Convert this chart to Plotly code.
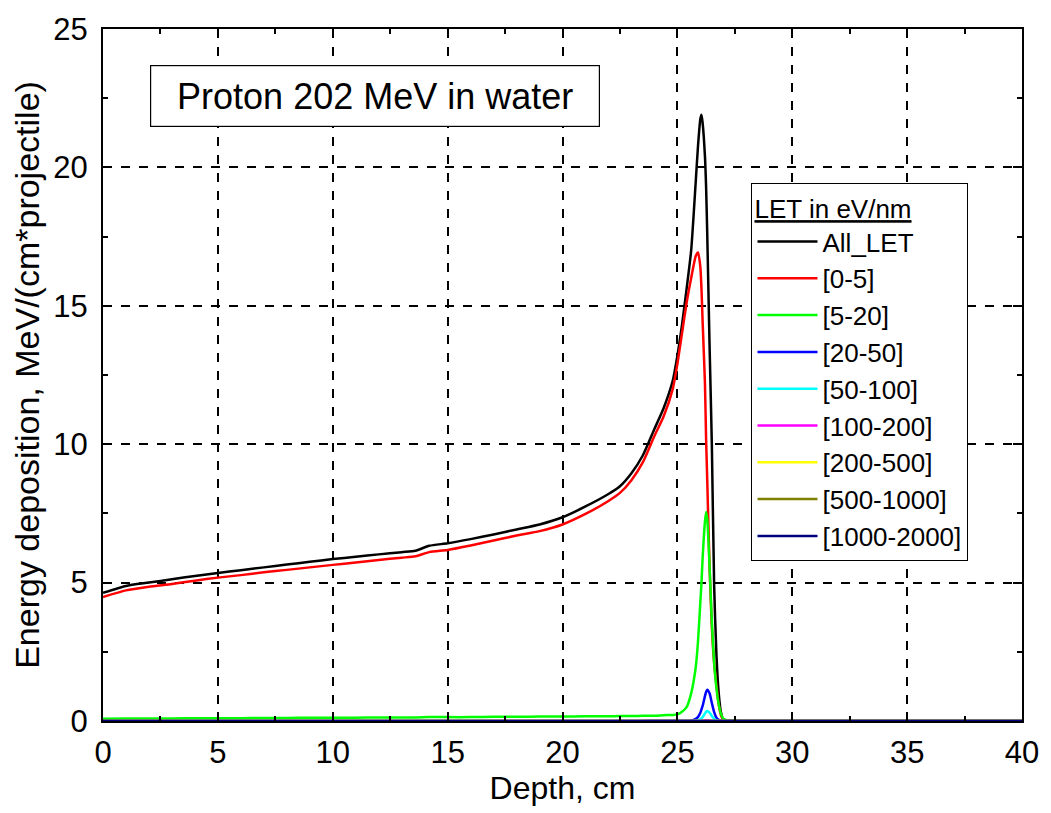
import plotly.graph_objects as go

depth = [0, 1, 2, 3, 4, 5, 6, 7, 8, 9, 10, 11, 12, 13, 13.6, 14.2, 15, 16, 17, 18, 19, 20,
         21, 22, 22.5, 23, 23.5, 24, 24.4, 24.8, 25.0, 25.2, 25.4, 25.6, 25.8, 25.9, 26.0,
         26.05, 26.1, 26.2, 26.25, 26.3, 26.4, 26.5, 26.6, 26.7, 26.8, 26.9, 27.0, 27.2,
         27.5, 28, 30, 35, 40]

all_let = [4.63, 4.88, 5.0, 5.12, 5.24, 5.35, 5.45, 5.55, 5.65, 5.75, 5.85, 5.93, 6.02, 6.1,
           6.15, 6.33, 6.42, 6.57, 6.74, 6.92, 7.10, 7.36, 7.75, 8.2, 8.48, 8.95, 9.6, 10.55,
           11.3, 12.3, 13.2, 14.3, 15.6, 17.0, 19.5, 20.8, 21.75, 21.9, 21.6, 20.4, 19.3,
           17.6, 13.6, 10.0, 4.9, 2.4, 1.0, 0.3, 0.06, 0.02, 0.01, 0.0, 0.0, 0.0, 0.0]

let_0_5 = [4.48, 4.72, 4.85, 4.95, 5.07, 5.18, 5.27, 5.37, 5.46, 5.55, 5.64, 5.73, 5.82, 5.9,
           5.95, 6.1, 6.18, 6.34, 6.52, 6.7, 6.86, 7.1, 7.48, 7.95, 8.24, 8.7, 9.35, 10.3,
           11.0, 12.0, 12.9, 14.0, 15.1, 16.0, 16.8, 16.93, 16.4, 15.6, 14.4, 12.2, 10.2,
           8.7, 5.6, 3.4, 2.1, 1.3, 0.6, 0.2, 0.05, 0.01, 0.0, 0.0, 0.0, 0.0, 0.0]

let_5_20 = [0.08, 0.09, 0.09, 0.09, 0.1, 0.1, 0.1, 0.11, 0.11, 0.12, 0.12, 0.12, 0.13, 0.13,
            0.13, 0.14, 0.14, 0.14, 0.15, 0.15, 0.16, 0.16, 0.17, 0.17, 0.18, 0.18, 0.19,
            0.19, 0.21, 0.22, 0.24, 0.33, 0.5, 1.0, 1.95, 2.9, 4.3, 5.0, 5.9, 7.2, 7.55,
            7.3, 5.6, 3.6, 2.1, 1.2, 0.6, 0.25, 0.08, 0.02, 0.01, 0.0, 0.0, 0.0, 0.0]

let_20_50 = [0.0] * 21 + [0.0, 0.0, 0.0, 0.0, 0.0, 0.0, 0.01, 0.01, 0.01, 0.01, 0.01, 0.01,
                          0.02, 0.08, 0.15, 0.3, 0.42, 0.55, 0.9, 1.05, 1.13, 1.0, 0.65, 0.32,
                          0.12, 0.04, 0.01, 0.0, 0.0, 0.0, 0.0, 0.0, 0.0, 0.0]

let_50_100 = [0.0] * 21 + [0.0, 0.0, 0.0, 0.0, 0.0, 0.0, 0.0, 0.0, 0.0, 0.0, 0.0, 0.0, 0.0,
                           0.01, 0.03, 0.06, 0.1, 0.14, 0.27, 0.33, 0.36, 0.3, 0.18, 0.08,
                           0.03, 0.01, 0.0, 0.0, 0.0, 0.0, 0.0, 0.0, 0.0, 0.0]

let_100_200 = [0.0] * 21 + [0.0] * 16 + [0.0, 0.01, 0.02, 0.03, 0.03, 0.02, 0.01, 0.0, 0.0,
                                          0.0, 0.0, 0.0, 0.0, 0.0, 0.0, 0.0, 0.0, 0.0]
let_200_500 = [0.0] * len(depth)
let_500_1000 = [0.0] * len(depth)
let_1000_2000 = [0.0] * len(depth)

series_names = ["All_LET", "[0-5]", "[5-20]", "[20-50]", "[50-100]", "[100-200]",
                "[200-500]", "[500-1000]", "[1000-2000]"]
series_values = [all_let, let_0_5, let_5_20, let_20_50, let_50_100, let_100_200,
                 let_200_500, let_500_1000, let_1000_2000]
series_colors = ["#000000", "#ff0000", "#00ff00", "#0000ff", "#00ffff", "#ff00ff",
                 "#ffff00", "#808000", "#000080"]

FONT = "Liberation Sans, Arial, sans-serif"

fig = go.Figure()
for i, (name, vals, col) in enumerate(zip(series_names, series_values, series_colors)):
    fig.add_trace(go.Scatter(
        x=depth, y=vals, mode="lines", name=name,
        line=dict(color=col, width=2.5, shape="spline", smoothing=0.6),
    ))

axis_common = dict(
    showline=True, linecolor="black", linewidth=2, mirror="ticks",
    ticks="inside", ticklen=9, tickwidth=2, tickcolor="black",
    showgrid=True, gridcolor="black", griddash="dash", gridwidth=1.5,
    zeroline=False,
    tickfont=dict(family=FONT, size=31, color="black"),
    minor=dict(ticks="inside", ticklen=5, tickwidth=2, tickcolor="black",
               dtick=2.5, showgrid=False),
)

fig.update_xaxes(range=[0, 40], dtick=5, tick0=0, ticklabelstandoff=3,
                 title=dict(text="Depth, cm", font=dict(family=FONT, size=32, color="black"),
                            standoff=2),
                 **axis_common)
fig.update_yaxes(range=[0, 25], dtick=5, tick0=0, ticklabelstandoff=7,
                 title=dict(text="Energy deposition, MeV/(cm*projectile)",
                            font=dict(family=FONT, size=34, color="black"), standoff=3),
                 **axis_common)

fig.add_annotation(
    xref="paper", yref="paper", x=(375 - 103) / 920, y=(721 - 92) / 696,
    xanchor="center", yanchor="middle",
    text="Proton 202 MeV in water", showarrow=False,
    font=dict(family=FONT, size=36, color="black"),
    bordercolor="black", borderwidth=1.2, borderpad=10, bgcolor="white",
    width=428, height=40,
)

fig.update_layout(
    width=1051, height=813,
    margin=dict(l=103, r=28, t=25, b=92),
    paper_bgcolor="white", plot_bgcolor="white",
    showlegend=True,
    legend=dict(
        title=dict(text="<u>LET in eV/nm</u>", font=dict(family=FONT, size=26, color="black")),
        font=dict(family=FONT, size=26, color="black"),
        x=(752 - 103) / 920, y=(721 - 180) / 696, xanchor="left", yanchor="top",
        bgcolor="white", bordercolor="black", borderwidth=1.2,
        traceorder="normal", itemwidth=60,
    ),
)

fig.write_html("out.html")
